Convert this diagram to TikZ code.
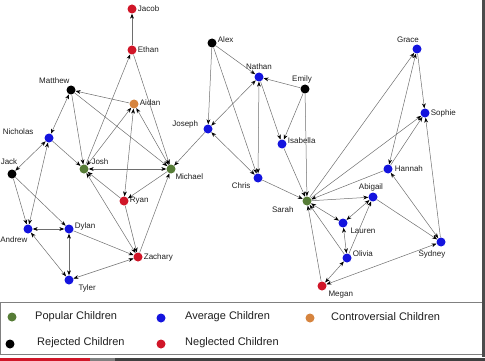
\documentclass[tikz,border=0pt]{standalone}
\usepackage{fontspec}
\setmainfont{Liberation Sans}
\usetikzlibrary{arrows.meta}
\definecolor{popgreen}{RGB}{86,124,54}
\definecolor{avgblue}{RGB}{20,20,222}
\definecolor{conorange}{RGB}{214,132,62}
\definecolor{negred}{RGB}{208,22,40}
\definecolor{edgegray}{RGB}{110,110,110}
\definecolor{txtgray}{RGB}{30,30,30}
\begin{document}
\begin{tikzpicture}[x=1pt,y=-1pt,>={Stealth[length=5pt,width=3.8pt,color=black]},
  kid/.style={circle,inner sep=0pt,minimum size=9pt},
  pop/.style={kid,fill=popgreen},avg/.style={kid,fill=avgblue},
  con/.style={kid,fill=conorange},rej/.style={kid,fill=black},
  neg/.style={kid,fill=negred},
  every label/.style={font=\fontsize{8}{9}\selectfont,text=txtgray,inner sep=1pt},
  legtext/.style={anchor=west,font=\fontsize{11}{13}\selectfont,text=txtgray,inner sep=0pt}]
\useasboundingbox (0,0) rectangle (485,361);
\node[neg,label=right:Jacob](jacob) at (132,9){};
\node[neg,label=right:Ethan](ethan) at (132,50){};
\node[rej,label={[xshift=3pt,yshift=2pt]above left:Matthew}](matthew) at (71,90){};
\node[con,label={[yshift=1pt]right:Aidan}](aidan) at (134,104){};
\node[avg,label={[xshift=-11pt,yshift=-1pt]above left:Nicholas}](nicholas) at (49,138){};
\node[rej,label={[xshift=-3pt,yshift=4pt]above:Jack}](jack) at (12,174){};
\node[pop,label={[xshift=3pt]above right:Josh}](josh) at (84,169){};
\node[pop,label=below right:Michael](michael) at (171,169){};
\node[neg,label=right:Ryan](ryan) at (124,201){};
\node[neg,label=right:Zachary](zachary) at (138,257){};
\node[avg,label={[xshift=4pt,yshift=-3pt]below left:Andrew}](andrew) at (28,229){};
\node[avg,label={[yshift=3pt]right:Dylan}](dylan) at (69,229){};
\node[avg,label={[xshift=5pt]below right:Tyler}](tyler) at (69,280){};
\node[avg,label={[xshift=-4pt,yshift=5pt]left:Joseph}](joseph) at (208,129){};
\node[rej,label={[yshift=3pt]right:Alex}](alex) at (212,43){};
\node[avg,label={[yshift=2pt]above:Nathan}](nathan) at (259,77){};
\node[rej,label={[xshift=-3pt]above:Emily}](emily) at (305,89){};
\node[avg,label={[yshift=3pt]right:Isabella}](isabella) at (282,144){};
\node[avg,label={[xshift=-3pt]below left:Chris}](chris) at (258,178){};
\node[pop,label={[xshift=-9pt,yshift=-1pt]below left:Sarah}](sarah) at (307,201){};
\node[avg,label={[xshift=-9pt,yshift=1pt]above:Grace}](grace) at (417,49){};
\node[avg,label=right:Sophie](sophie) at (425,113){};
\node[avg,label={[xshift=1pt]right:Hannah}](hannah) at (388,169){};
\node[avg,label={[xshift=-2pt]above:Abigail}](abigail) at (373,197){};
\node[avg,label={[xshift=3pt]below right:Lauren}](lauren) at (343,223){};
\node[avg,label={[yshift=4pt]right:Olivia}](olivia) at (347,258){};
\node[avg,label={[xshift=-9pt,yshift=-3pt]below:Sydney}](sydney) at (441,242){};
\node[neg,label={[xshift=2pt]below right:Megan}](megan) at (322,286){};
\begin{scope}[draw=edgegray,line width=.5pt]
\draw[->](ethan)--(jacob); \draw[->](josh)--(ethan); \draw[->](ethan)--(michael);
\draw[->](aidan)--(matthew); \draw[->](matthew)--(josh); \draw[->](matthew)--(michael);
\draw[<->](aidan)--(michael); \draw[<->](aidan)--(josh); \draw[<->](aidan)--(ryan);
\draw[<->](josh)--(michael); \draw[->](ryan)--(josh); \draw[<->](zachary)--(josh);
\draw[->](michael)--(ryan); \draw[->](ryan)--(zachary); \draw[->](zachary)--(michael);
\draw[->](joseph)--(michael); \draw[->](nicholas)--(josh); \draw[<->](nicholas)--(matthew);
\draw[<->](nicholas)--(jack); \draw[<->](nicholas)--(andrew); \draw[->](jack)--(andrew);
\draw[->](jack)--(dylan); \draw[<->](andrew)--(dylan); \draw[<->](andrew)--(tyler);
\draw[<->](dylan)--(tyler); \draw[->](dylan)--(zachary); \draw[<->](zachary)--(tyler);
\draw[->](alex)--(joseph); \draw[->](alex)--(nathan); \draw[->](alex)--(chris);
\draw[<->](nathan)--(joseph); \draw[<->](chris)--(joseph); \draw[->](emily)--(nathan);
\draw[<->](nathan)--(chris); \draw[->](nathan)--(isabella); \draw[->](emily)--(isabella);
\draw[->](emily)--(sarah); \draw[->](isabella)--(sarah); \draw[->](chris)--(sarah);
\draw[->](sarah)--(grace); \draw[<->](hannah)--(grace); \draw[->](grace)--(sophie);
\draw[->](sarah)--(sophie); \draw[->](hannah)--(sophie); \draw[->](sydney)--(sophie);
\draw[->](hannah)--(sarah); \draw[<->](hannah)--(sydney); \draw[->](sarah)--(abigail);
\draw[->](abigail)--(sydney); \draw[<->](sarah)--(lauren); \draw[<->](abigail)--(lauren);
\draw[<->](lauren)--(olivia); \draw[->](olivia)--(abigail); \draw[->](olivia)--(sarah);
\draw[->](megan)--(sarah); \draw[<->](megan)--(olivia); \draw[<->](sydney)--(megan);
\end{scope}
% legend
\draw[gray,line width=.8pt](0.5,302.5) rectangle (483,354.5);
\node[pop](legpop) at (12,317){}; \node[legtext](legpoptxt) at (35,317){Popular Children};
\node[avg](legavg) at (161,318){}; \node[legtext](legavgtxt) at (185,317){Average Children};
\node[con](legcon) at (310,318){}; \node[legtext](legcontxt) at (331,317){Controversial Children};
\node[rej](legrej) at (10,344){}; \node[legtext](legrejtxt) at (37,343){Rejected Children};
\node[neg](legneg) at (161,344){}; \node[legtext](legnegtxt) at (185,343){Neglected Children};
% frame of the screen
\fill[black!70](482,0) rectangle (484.5,357);
\fill[negred](0,357.5) rectangle (90,361);
\fill[gray](90,357.5) rectangle (115,361);
\fill[black!75](115,357.5) rectangle (485,361);
\end{tikzpicture}
\end{document}
